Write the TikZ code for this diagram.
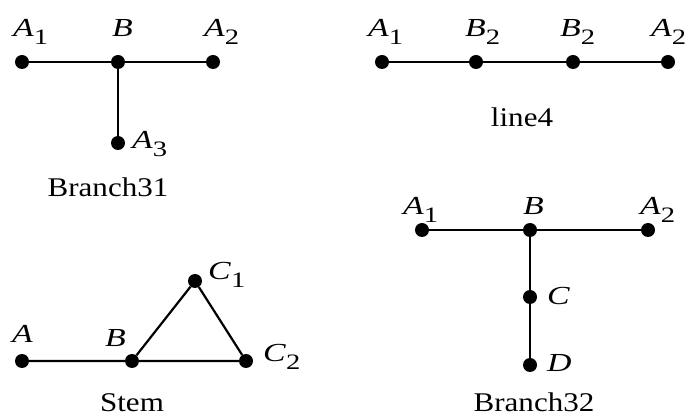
\documentclass[tikz,border=0pt]{standalone}
\usepackage{fontspec}
\setmainfont{Liberation Serif}
\newfontfamily\labfont[FakeStretch=1.3]{Liberation Serif}
\newfontfamily\capfont[FakeStretch=1.15]{Liberation Serif}
\newcommand{\sublab}[2]{\textit{#1}\raisebox{-8pt}{\fontsize{22}{22}\selectfont #2}}

\begin{document}
\begin{tikzpicture}[x=1pt, y=-1pt,
  vtx/.style={circle, fill=black, inner sep=0pt, minimum size=14pt},
  lab/.style={anchor=base west, inner sep=0pt, font=\labfont\fontsize{26}{30}\selectfont},
  capname/.style={anchor=base, inner sep=0pt, text depth=0pt, font=\capfont\fontsize{27}{32}\selectfont},
  link/.style={line width=2.2pt}]
  \useasboundingbox (0,0) rectangle (686,419);
  % Branch31 - T shape
  \node[vtx] (p1) at (22,62) {};
  \node[vtx] (p2) at (118,62) {};
  \node[vtx] (p3) at (213,62) {};
  \node[vtx] (p4) at (118,143) {};
  \draw[link] (p1) -- (p2) -- (p3);
  \draw[link] (p2) -- (p4);
  \node[lab] (lp1) at (13,37) {\sublab{A}{1}};
  \node[lab] (lp2) at (112,37) {\textit{B}};
  \node[lab] (lp3) at (204,37) {\sublab{A}{2}};
  \node[lab] (lp4) at (132,149) {\sublab{A}{3}};
  \node[capname] (np) at (108,197) {Branch31};
  % line4 - four in a row
  \node[vtx] (q1) at (382,62) {};
  \node[vtx] (q2) at (476,62) {};
  \node[vtx] (q3) at (573,62) {};
  \node[vtx] (q4) at (668,62) {};
  \draw[link] (q1) -- (q2) -- (q3) -- (q4);
  \node[lab] (lq1) at (368,37) {\sublab{A}{1}};
  \node[lab] (lq2) at (465,37) {\sublab{B}{2}};
  \node[lab] (lq3) at (560,37) {\sublab{B}{2}};
  \node[lab] (lq4) at (651,37) {\sublab{A}{2}};
  \node[capname] (nq) at (522,127) {line4};
  % Stem - tail with triangle
  \node[vtx] (s1) at (22,361) {};
  \node[vtx] (s2) at (132,361) {};
  \node[vtx] (s3) at (195,281) {};
  \node[vtx] (s4) at (246,361) {};
  \draw[link] (s1) -- (s2) -- (s4) -- (s3) -- (s2);
  \node[lab] (ls1) at (12,343) {\textit{A}};
  \node[lab] (ls2) at (105,347) {\textit{B}};
  \node[lab] (ls3) at (208,280) {\sublab{C}{1}};
  \node[lab] (ls4) at (263,362) {\sublab{C}{2}};
  \node[capname] (ns) at (132,412) {Stem};
  % Branch32 - T shape with longer leg
  \node[vtx] (r1) at (422,230) {};
  \node[vtx] (r2) at (530,230) {};
  \node[vtx] (r3) at (648,230) {};
  \node[vtx] (r4) at (530,297) {};
  \node[vtx] (r5) at (530,365) {};
  \draw[link] (r1) -- (r2) -- (r3);
  \draw[link] (r2) -- (r4) -- (r5);
  \node[lab] (lr1) at (403,215) {\sublab{A}{1}};
  \node[lab] (lr2) at (523,215) {\textit{B}};
  \node[lab] (lr3) at (640,215) {\sublab{A}{2}};
  \node[lab] (lr4) at (547,305) {\textit{C}};
  \node[lab] (lr5) at (547,372) {\textit{D}};
  \node[capname] (nr) at (534,412) {Branch32};
\end{tikzpicture}
\end{document}
